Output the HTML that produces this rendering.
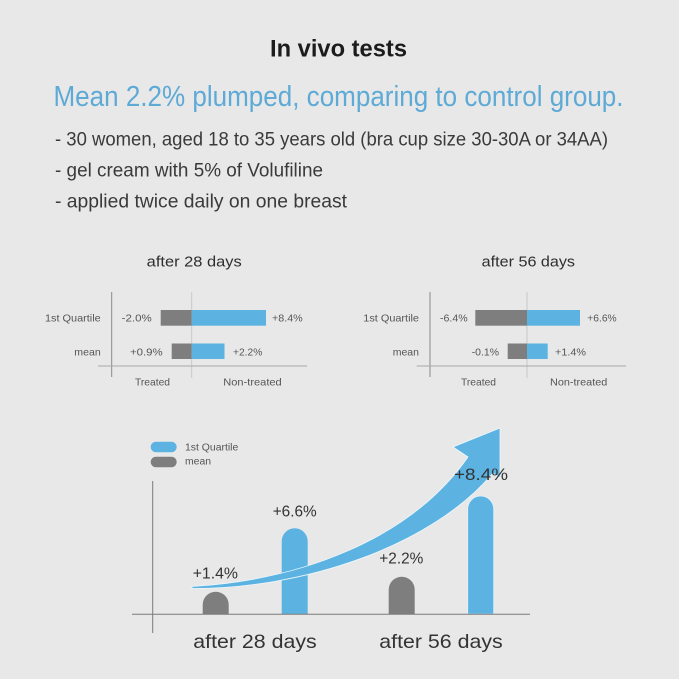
<!DOCTYPE html>
<html>
<head>
<meta charset="utf-8">
<style>
html,body{margin:0;padding:0;background:#e8e8e8;}
svg{display:block;}
text{font-family:"Liberation Sans",sans-serif;}
</style>
</head>
<body>
<svg width="679" height="679" viewBox="0 0 679 679" xmlns="http://www.w3.org/2000/svg">
<rect x="0" y="0" width="679" height="679" fill="#e8e8e8"/>

<!-- Header -->
<text x="270" y="56.5" font-size="24.5" font-weight="bold" fill="#1c1c1c" textLength="137" lengthAdjust="spacingAndGlyphs">In vivo tests</text>
<text x="53.5" y="106" font-size="29" fill="#5eaad6" textLength="570" lengthAdjust="spacingAndGlyphs">Mean 2.2% plumped, comparing to control group.</text>
<text x="55" y="145.5" font-size="19.5" fill="#3a3a3a" textLength="553" lengthAdjust="spacingAndGlyphs">- 30 women, aged 18 to 35 years old (bra cup size 30-30A or 34AA)</text>
<text x="55" y="176.7" font-size="19.5" fill="#3a3a3a" textLength="268" lengthAdjust="spacingAndGlyphs">- gel cream with 5% of Volufiline</text>
<text x="55" y="207.5" font-size="19.5" fill="#3a3a3a" textLength="292" lengthAdjust="spacingAndGlyphs">- applied twice daily on one breast</text>

<!-- Small chart 1 -->
<text x="146.7" y="266.7" font-size="15" fill="#2e2e2e" textLength="95" lengthAdjust="spacingAndGlyphs">after 28 days</text>
<line x1="111.7" y1="292" x2="111.7" y2="377" stroke="#8a8a8a" stroke-width="1"/>
<line x1="191.7" y1="292" x2="191.7" y2="378" stroke="#c9c9c9" stroke-width="1"/>
<line x1="98" y1="366" x2="307" y2="366" stroke="#a8a8a8" stroke-width="1"/>
<rect x="160.7" y="310" width="31" height="15.7" fill="#7e7e7e"/>
<rect x="191.7" y="310" width="74.3" height="15.7" fill="#5cb3e1"/>
<rect x="171.7" y="343.5" width="20" height="15.5" fill="#7e7e7e"/>
<rect x="191.7" y="343.5" width="32.8" height="15.5" fill="#5cb3e1"/>
<text x="45" y="321.7" font-size="10.5" fill="#555" textLength="55.7" lengthAdjust="spacingAndGlyphs">1st Quartile</text>
<text x="74.3" y="355.7" font-size="10.5" fill="#555" textLength="26.4" lengthAdjust="spacingAndGlyphs">mean</text>
<text x="121.7" y="321.7" font-size="10.5" fill="#555" textLength="30" lengthAdjust="spacingAndGlyphs">-2.0%</text>
<text x="272" y="321.7" font-size="10.5" fill="#555" textLength="30.7" lengthAdjust="spacingAndGlyphs">+8.4%</text>
<text x="130" y="355.7" font-size="10.5" fill="#555" textLength="32.7" lengthAdjust="spacingAndGlyphs">+0.9%</text>
<text x="233" y="355.7" font-size="10.5" fill="#555" textLength="29.3" lengthAdjust="spacingAndGlyphs">+2.2%</text>
<text x="135" y="385.5" font-size="10.5" fill="#555" textLength="35" lengthAdjust="spacingAndGlyphs">Treated</text>
<text x="223.3" y="385.5" font-size="10.5" fill="#555" textLength="58.4" lengthAdjust="spacingAndGlyphs">Non-treated</text>

<!-- Small chart 2 -->
<text x="481.7" y="266.7" font-size="15" fill="#2e2e2e" textLength="93.3" lengthAdjust="spacingAndGlyphs">after 56 days</text>
<line x1="430" y1="292" x2="430" y2="377" stroke="#8a8a8a" stroke-width="1"/>
<line x1="527" y1="292" x2="527" y2="378" stroke="#c9c9c9" stroke-width="1"/>
<line x1="416.7" y1="366" x2="626" y2="366" stroke="#a8a8a8" stroke-width="1"/>
<rect x="475.3" y="310" width="51.7" height="15.7" fill="#7e7e7e"/>
<rect x="527" y="310" width="53" height="15.7" fill="#5cb3e1"/>
<rect x="507.7" y="343.5" width="19.3" height="15.5" fill="#7e7e7e"/>
<rect x="527" y="343.5" width="20.7" height="15.5" fill="#5cb3e1"/>
<text x="363.3" y="321.7" font-size="10.5" fill="#555" textLength="55.7" lengthAdjust="spacingAndGlyphs">1st Quartile</text>
<text x="392.7" y="355.7" font-size="10.5" fill="#555" textLength="26.3" lengthAdjust="spacingAndGlyphs">mean</text>
<text x="440" y="321.7" font-size="10.5" fill="#555" textLength="27.7" lengthAdjust="spacingAndGlyphs">-6.4%</text>
<text x="587.3" y="321.7" font-size="10.5" fill="#555" textLength="29.4" lengthAdjust="spacingAndGlyphs">+6.6%</text>
<text x="471.7" y="355.7" font-size="10.5" fill="#555" textLength="27.3" lengthAdjust="spacingAndGlyphs">-0.1%</text>
<text x="555" y="355.7" font-size="10.5" fill="#555" textLength="31" lengthAdjust="spacingAndGlyphs">+1.4%</text>
<text x="461" y="385.5" font-size="10.5" fill="#555" textLength="35" lengthAdjust="spacingAndGlyphs">Treated</text>
<text x="550" y="385.5" font-size="10.5" fill="#555" textLength="57.3" lengthAdjust="spacingAndGlyphs">Non-treated</text>

<!-- Lower chart -->
<rect x="150.7" y="441.7" width="26" height="10.6" rx="5.3" fill="#5cb3e1"/>
<rect x="150.7" y="456.7" width="26" height="10.6" rx="5.3" fill="#7e7e7e"/>
<text x="185" y="450.7" font-size="10" fill="#555" textLength="53.3" lengthAdjust="spacingAndGlyphs">1st Quartile</text>
<text x="185" y="464.5" font-size="10" fill="#555" textLength="26" lengthAdjust="spacingAndGlyphs">mean</text>

<line x1="152.7" y1="481" x2="152.7" y2="633" stroke="#7a7a7a" stroke-width="1"/>

<!-- bars -->
<path d="M202.7,614 V604.7 A13,13 0 0 1 228.7,604.7 V614 Z" fill="#7e7e7e"/>
<path d="M281.7,614 V541.3 A13,13 0 0 1 307.7,541.3 V614 Z" fill="#5cb3e1"/>
<path d="M388.7,614 V589.7 A13,13 0 0 1 414.7,589.7 V614 Z" fill="#7e7e7e"/>

<!-- arrow -->
<path d="M192,586.5 C300,580 410,540 468,457 L453,447 L500,428 L500,478 L493,473 C430,548 300,589 192,588.5 Z" fill="#5cb3e1" stroke="#eef7fc" stroke-width="0.8" stroke-linejoin="round"/>

<path d="M467.7,614 V509 A13,13 0 0 1 493.7,509 V614 Z" fill="#5cb3e1" stroke="#e4f2fa" stroke-width="0.8"/>

<line x1="132" y1="614.3" x2="530" y2="614.3" stroke="#7a7a7a" stroke-width="1"/>

<text x="192.7" y="578.3" font-size="16" fill="#333" textLength="45.3" lengthAdjust="spacingAndGlyphs">+1.4%</text>
<text x="272.7" y="516.3" font-size="16" fill="#333" textLength="44" lengthAdjust="spacingAndGlyphs">+6.6%</text>
<text x="379.3" y="563.3" font-size="16" fill="#333" textLength="44" lengthAdjust="spacingAndGlyphs">+2.2%</text>
<text x="454" y="480" font-size="16.5" fill="#333" textLength="54" lengthAdjust="spacingAndGlyphs">+8.4%</text>

<text x="193.3" y="647.8" font-size="19.5" fill="#333" textLength="123.4" lengthAdjust="spacingAndGlyphs">after 28 days</text>
<text x="379.3" y="647.8" font-size="19.5" fill="#333" textLength="123.4" lengthAdjust="spacingAndGlyphs">after 56 days</text>
</svg>
</body>
</html>
